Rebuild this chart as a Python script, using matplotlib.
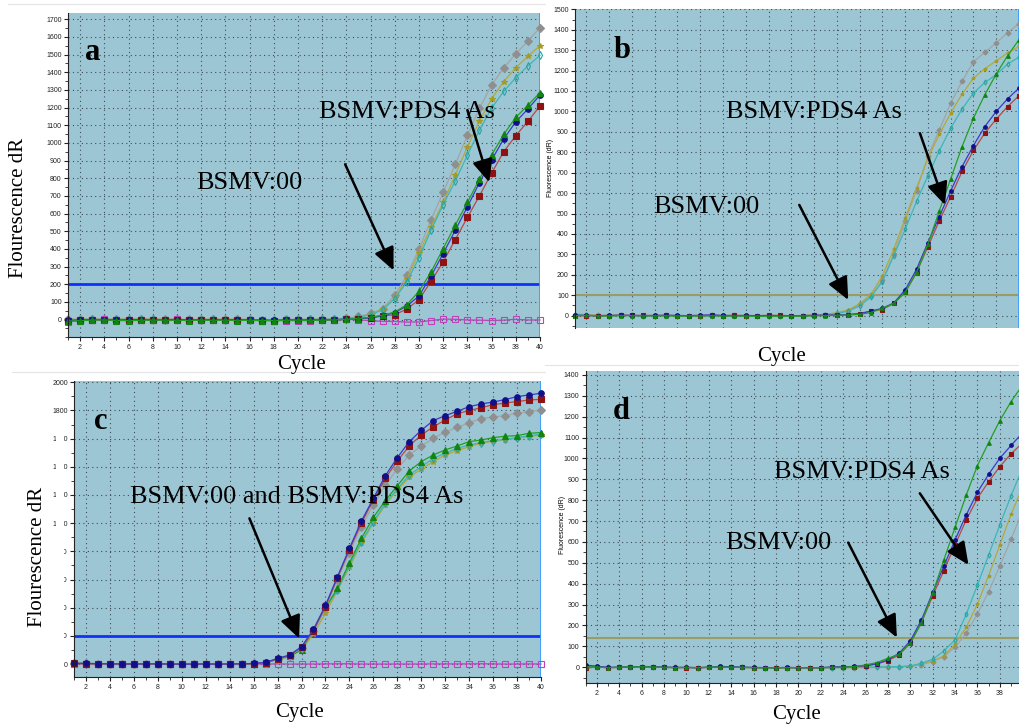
import numpy as np
import matplotlib
matplotlib.use("Agg")
import matplotlib.pyplot as plt
from matplotlib.ticker import MultipleLocator, FixedLocator
from matplotlib.patches import Rectangle
from matplotlib.lines import Line2D

cycles = np.arange(1, 41)

# panel a
a_gray = [2, 3, 4, 3, 2, 4, 5, 2, 3, 2, 1, 2, 3, 2, 3, 1, -2, 0, 1, 2, 1, 3, 5, 8, 18, 35, 62, 140, 250, 400,
          565, 720, 878, 1045, 1195, 1328, 1424, 1505, 1576, 1653]
a_olive = [0, 2, 3, 4, 2, 3, 4, 3, 2, 2, 0, 1, 2, 1, 2, 0, -3, -1, 0, 1, 2, 3, 4, 7, 15, 30, 58, 123, 232, 378,
           525, 663, 818, 978, 1124, 1249, 1347, 1426, 1490, 1551]
a_cyan = [-3, 0, 2, 2, 1, 2, 2, 1, 0, 1, -1, 0, 1, 0, 1, -1, -3, -2, -1, 0, 1, 2, 3, 6, 13, 28, 55, 119, 213, 350,
          506, 650, 784, 931, 1073, 1196, 1292, 1369, 1436, 1496]
a_green = [-8, -6, -3, -2, -5, -6, -4, -3, -3, -4, -5, -3, -4, -3, -5, -4, -5, -5, -4, -3, -4, -3, -2, 2, 6, 14,
           25, 43, 85, 160, 270, 402, 535, 663, 795, 931, 1048, 1145, 1213, 1285]
a_blue = [-4, -2, 0, 0, -3, -2, 0, -1, -1, 0, -2, -1, 0, -1, -1, -2, -3, -4, -2, -1, -2, -1, 0, 2, 5, 11, 22, 40,
          77, 134, 247, 374, 506, 638, 776, 903, 1022, 1120, 1192, 1271]
a_red = [-6, -4, -2, -2, -4, -3, -2, -3, -3, -2, -4, -3, -2, -3, -3, -4, -5, -5, -4, -3, -3, -2, -1, 1, 4, 10, 21,
         28, 60, 113, 217, 327, 453, 578, 701, 829, 950, 1041, 1122, 1209]
a_ntc = [-12, -6, 0, 1, -2, 0, -1, -3, 0, 1, -1, 0, -1, -2, -1, -3, -4, -6, -5, -6, -5, -4, -3, 2, -1, -6, -10,
         -10, -14, -13, -5, 3, 2, -2, -3, -5, -3, 2, -2, -2]

# panel b
b_gray = [5, 3, 1, 0, 2, 1, 0, 0, 1, 0, -1, 0, 1, 0, 1, 0, -1, -2, -1, -1, 0, 2, 5, 12, 25, 55, 98, 175, 300, 462,
          612, 780, 910, 1040, 1148, 1242, 1290, 1335, 1386, 1430]
b_olive = [8, 5, 2, 1, 2, 1, 0, 1, 1, 0, 0, 1, 1, 0, 1, 0, 0, -1, -1, 0, 1, 3, 7, 14, 28, 58, 105, 195, 325, 477,
           625, 770, 888, 992, 1085, 1163, 1209, 1248, 1286, 1318]
b_cyan = [4, 2, 0, -1, 1, 0, -1, 0, 0, -1, -1, 0, 0, -1, 0, -1, -2, -2, -1, -1, 0, 1, 4, 10, 22, 48, 92, 167, 294,
          423, 559, 685, 807, 918, 1011, 1090, 1142, 1180, 1232, 1266]
b_green = [0, 1, -1, -2, 0, 0, -1, -1, -1, -2, -2, -1, -1, -2, -2, -2, -3, -3, -3, -2, -2, -1, 0, 1, 3, 6, 15, 36,
           60, 114, 211, 350, 513, 670, 828, 967, 1082, 1183, 1273, 1351]
b_blue = [2, 1, 0, 1, 2, 1, 0, 1, 2, 1, 0, 2, 4, 1, 0, 1, 0, -1, 0, -1, 0, 1, 2, 3, 5, 10, 22, 36, 62, 126, 227,
          358, 485, 611, 730, 833, 926, 1000, 1062, 1114]
b_red = [-2, 0, -1, 0, 2, 1, 1, 0, 1, 0, -1, 0, 1, 0, 1, 0, 0, 2, 1, 0, 0, 1, 2, 3, 5, 10, 22, 30, 60, 114, 211,
         338, 464, 583, 706, 809, 894, 962, 1024, 1077]

# panel c
c_blue = [5, 4, 3, 2, 1, 1, 1, 2, 0, 0, 0, 1, 0, 1, 2, 4, 12, 40, 64, 123, 246, 417, 620, 821, 1015, 1176, 1337,
          1465, 1579, 1659, 1728, 1763, 1794, 1827, 1846, 1860, 1877, 1898, 1910, 1922]
c_red = [4, 3, 2, 1, 0, 0, 1, 1, 0, -1, 0, 0, -1, 0, 1, 3, 10, 38, 62, 118, 238, 408, 612, 812, 999, 1165, 1318,
         1441, 1548, 1626, 1683, 1733, 1777, 1799, 1820, 1841, 1853, 1863, 1874, 1879]
c_gray = [6, 5, 3, 2, 1, 1, 2, 2, 1, 0, 0, 1, 0, 1, 2, 4, 11, 38, 60, 115, 235, 400, 597, 790, 975, 1130, 1271,
          1385, 1484, 1548, 1602, 1647, 1680, 1713, 1742, 1754, 1763, 1780, 1792, 1801]
c_green = [7, 5, 3, 1, 0, 0, 1, 1, 0, -1, -1, 0, -1, 0, 1, 3, 9, 35, 55, 100, 241, 402, 537, 719, 892, 1041, 1160,
           1266, 1370, 1437, 1484, 1520, 1548, 1579, 1590, 1607, 1617, 1621, 1638, 1643]
c_cyan = [6, 4, 2, 1, 0, 0, 1, 0, 0, -1, -1, 0, -1, 0, 1, 3, 9, 34, 56, 108, 232, 395, 525, 703, 869, 1011, 1141,
          1243, 1342, 1401, 1460, 1496, 1531, 1555, 1572, 1586, 1595, 1607, 1621, 1631]
c_olive = [5, 4, 2, 1, 0, 0, 1, 0, 0, -1, -1, 0, -1, 0, 1, 3, 8, 32, 52, 102, 213, 360, 521, 686, 857, 999, 1129,
           1236, 1325, 1385, 1437, 1484, 1515, 1543, 1567, 1581, 1591, 1602, 1614, 1626]
c_ntc = [2, 1, 2, 0, 0, 0, 0, 1, 0, 0, 0, 0, -1, 0, 0, 0, 0, 1, 0, 0, 0, 1, 2, 2, 0, 0, 0, 0, 0, 0, 1, 1, 1, 1, 2,
         1, 0, 0, 1, 0]

# panel d
d_green = [2, 1, -2, 0, 1, 2, 1, -1, -2, -1, -2, 0, 1, 0, -1, -2, -3, -3, -2, -2, -3, -2, -1, 0, 3, 11, 22, 43, 62,
           115, 214, 354, 514, 670, 825, 966, 1076, 1181, 1272, 1349]
d_blue = [10, 5, -1, 0, 2, 3, 3, 0, -1, -1, -2, 0, 4, 2, 0, -1, -2, -2, -1, -2, -2, -2, 1, 2, 4, 8, 16, 35, 67, 126,
          227, 358, 485, 610, 730, 838, 924, 1001, 1062, 1121]
d_red = [-5, 2, -3, -1, 3, 2, 1, -1, -2, -2, -3, -1, 0, 1, -1, -2, -2, -3, -2, -3, -3, -3, 0, 1, 3, 6, 16, 32, 59,
         115, 214, 342, 463, 586, 706, 809, 889, 961, 1022, 1073]
d_cyan = [3, 2, 0, 0, 1, 2, 2, 0, -1, -1, -2, -1, 0, 0, -1, -2, -3, -3, -2, -2, -3, -3, -2, -2, -1, 0, 1, 2, 3, 6,
          19, 38, 78, 131, 254, 394, 538, 682, 821, 950]
d_olive = [1, 0, -1, 0, 1, 1, 1, 0, -1, -1, -2, -1, 0, 0, -1, -2, -3, -3, -2, -2, -3, -3, -2, -2, -2, -1, -1, 0, 2,
           5, 14, 30, 54, 112, 192, 303, 439, 586, 733, 857]
d_gray = [0, 0, -1, -1, 0, 1, 0, 0, -1, -1, -2, -1, 0, 0, -1, -2, -3, -3, -2, -2, -3, -3, -2, -2, -2, -1, -1, 0, 2,
          5, 12, 27, 51, 96, 163, 255, 362, 485, 613, 745]

label_00 = "BSMV:00"
label_pds = "BSMV:PDS4 As"
label_both = "BSMV:00 and BSMV:PDS4 As"

STYLE = {
    "gray": dict(color="#a4a4a4", marker="D", mfc="#8f8f8f", mec="#8f8f8f"),
    "olive": dict(color="#b3a93c", marker="*", mfc="#a59a22", mec="#a59a22"),
    "cyan": dict(color="#3cb6b6", marker="d", mfc="none", mec="#2aa3a3"),
    "green": dict(color="#22a022", marker="^", mfc="#128412", mec="#128412"),
    "blue": dict(color="#3a3ac8", marker="o", mfc="#10108c", mec="#10108c"),
    "red": dict(color="#b54848", marker="s", mfc="#8e1212", mec="#8e1212"),
    "ntc": dict(color="#b04ab0", marker="s", mfc="none", mec="#c040c0"),
}

W, H = 1020, 728
serif = "Liberation Serif"
sans = "Liberation Sans"


def box(left, top, right, bottom):
    return [left / W, 1 - bottom / H, (right - left) / W, (bottom - top) / H]


def setup(ax, ylim, ymajor, yminor, xmax=40, xlabels=True, bottom=True):
    ax.set_facecolor("#9dc6d4")
    ax.set_xlim(1, xmax)
    ax.set_ylim(*ylim)
    ax.xaxis.set_major_locator(MultipleLocator(2))
    ax.xaxis.set_minor_locator(MultipleLocator(1))
    ax.yaxis.set_major_locator(FixedLocator(np.arange(0, ylim[1] + 1, ymajor)))
    ax.yaxis.set_minor_locator(MultipleLocator(yminor))
    ax.grid(True, which="major", color="#3c4c58", ls=(0, (1, 3)), lw=0.8)
    ax.set_axisbelow(True)
    for s in ["top", "right"]:
        ax.spines[s].set_visible(False)
    ax.spines["left"].set_color("#222222")
    ax.spines["bottom"].set_color("#222222")
    ax.spines["bottom"].set_visible(bottom)
    ax.tick_params(which="major", length=3, width=0.8, labelsize=5, pad=1.5, colors="#222222")
    ax.tick_params(which="minor", length=2, width=0.6, colors="#222222")
    for t in ax.get_xticklabels() + ax.get_yticklabels():
        t.set_fontfamily(sans)
    if not xlabels:
        ax.tick_params(axis="x", which="both", length=0, labelbottom=False)


def curves(ax, series, ms, clip=False):
    for key, vals in series:
        st = STYLE[key]
        ax.plot(cycles, vals, lw=0.9, ms=ms, mew=0.8, clip_on=clip, **st)


def arrow(ax, tail, head):
    ax.annotate("", xy=head, xytext=tail,
                arrowprops=dict(arrowstyle="-|>,head_length=0.55,head_width=0.25", mutation_scale=25,
                                lw=1.8, color="black", shrinkA=0, shrinkB=0))


def words(ax, x, y, s, size=19, bold=False):
    ax.text(x, y, s, fontsize=size, family=serif, ha="center", va="center",
            fontweight="bold" if bold else "normal")


def rule(x0, x1, y):
    fig.add_artist(Line2D([x0 / W, x1 / W], [1 - y / H, 1 - y / H], color="#e4e4e4", lw=0.8))


fig = plt.figure(figsize=(W / 100, H / 100), dpi=100)
rule(8, 545, 4)
rule(12, 545, 372)
rule(545, 1020, 365)

# a
ax = fig.add_axes(box(68, 12.7, 540, 337.3))
setup(ax, (-100, 1737), 100, 50)
ax.axhline(200, color="#1030ff", lw=2)
ax.axvline(40, color="#3a9cff", lw=2)
curves(ax, [("gray", a_gray), ("olive", a_olive), ("cyan", a_cyan), ("ntc", a_ntc),
            ("red", a_red), ("blue", a_blue), ("green", a_green)], 4.0)
words(ax, 3.05, 1510, "a", size=22, bold=True)
words(ax, 16.0, 773, label_00)
words(ax, 29.0, 1174, label_pds)
arrow(ax, (23.9, 879), (27.9, 279))
arrow(ax, (34.0, 1186), (35.8, 778))
fig.text(19 / W, 1 - 208 / H, "Flourescence dR", rotation=90, fontsize=15, family=serif, ha="center", va="center")
fig.text(302 / W, 1 - 365 / H, "Cycle", fontsize=15, family=serif, ha="center", va="center")

# b
ax = fig.add_axes(box(575, 9.3, 1019, 328.3))
setup(ax, (-62, 1500), 100, 50, xlabels=False, bottom=False)
ax.axhline(100, color="#9a9c68", lw=1.5)
ax.axvline(40, color="#3a9cff", lw=2)
curves(ax, [("gray", b_gray), ("olive", b_olive), ("cyan", b_cyan),
            ("red", b_red), ("blue", b_blue), ("green", b_green)], 2.6)
words(ax, 5.1, 1298, "b", size=22, bold=True)
words(ax, 22.0, 998, label_pds)
words(ax, 12.55, 530, label_00)
arrow(ax, (20.7, 542), (25.0, 77))
arrow(ax, (31.3, 893), (33.5, 542))
fig.text(551 / W, 1 - 168 / H, "Fluorescence (dR)", rotation=90, fontsize=5, family=sans, ha="center", va="center")
fig.text(781 / W, 1 - 357 / H, "Cycle", fontsize=15, family=serif, ha="center", va="center")

# c
ax = fig.add_axes(box(74, 381, 541, 677.3))
setup(ax, (-94, 2009), 200, 100)
ax.axhline(200, color="#1030ff", lw=2)
ax.axvline(40, color="#3a9cff", lw=2)
curves(ax, [("ntc", c_ntc), ("olive", c_olive), ("cyan", c_cyan), ("green", c_green),
            ("gray", c_gray), ("red", c_red), ("blue", c_blue)], 4.0)
words(ax, 3.23, 1720, "c", size=22, bold=True)
words(ax, 19.6, 1188, label_both)
arrow(ax, (15.65, 1034), (19.8, 182))
# the source image hides most of these tick labels
fig.patches.append(Rectangle((56.5 / W, 1 - 652 / H), 8 / W, 230 / H, transform=fig.transFigure,
                             facecolor="white", edgecolor="none", zorder=5))
fig.text(37 / W, 1 - 557 / H, "Flourescence dR", rotation=90, fontsize=15, family=serif, ha="center", va="center")
fig.text(300 / W, 1 - 712 / H, "Cycle", fontsize=15, family=serif, ha="center", va="center")

# d
ax = fig.add_axes(box(585.7, 370.7, 1020, 683.3))
setup(ax, (-77, 1420), 100, 50, xmax=39.8)
ax.axhline(142, color="#9a9c68", lw=1.5)
curves(ax, [("gray", d_gray), ("olive", d_olive), ("cyan", d_cyan),
            ("red", d_red), ("blue", d_blue), ("green", d_green)], 2.6, clip=True)
words(ax, 4.2, 1224, "d", size=22, bold=True)
words(ax, 25.7, 937, label_pds)
words(ax, 18.2, 594, label_00)
arrow(ax, (24.45, 597), (28.8, 142))
arrow(ax, (30.85, 833), (35.2, 490))
fig.text(562 / W, 1 - 525 / H, "Fluorescence (dR)", rotation=90, fontsize=5, family=sans, ha="center", va="center")
fig.text(797 / W, 1 - 715 / H, "Cycle", fontsize=15, family=serif, ha="center", va="center")

fig.savefig("out.png", dpi=100)
